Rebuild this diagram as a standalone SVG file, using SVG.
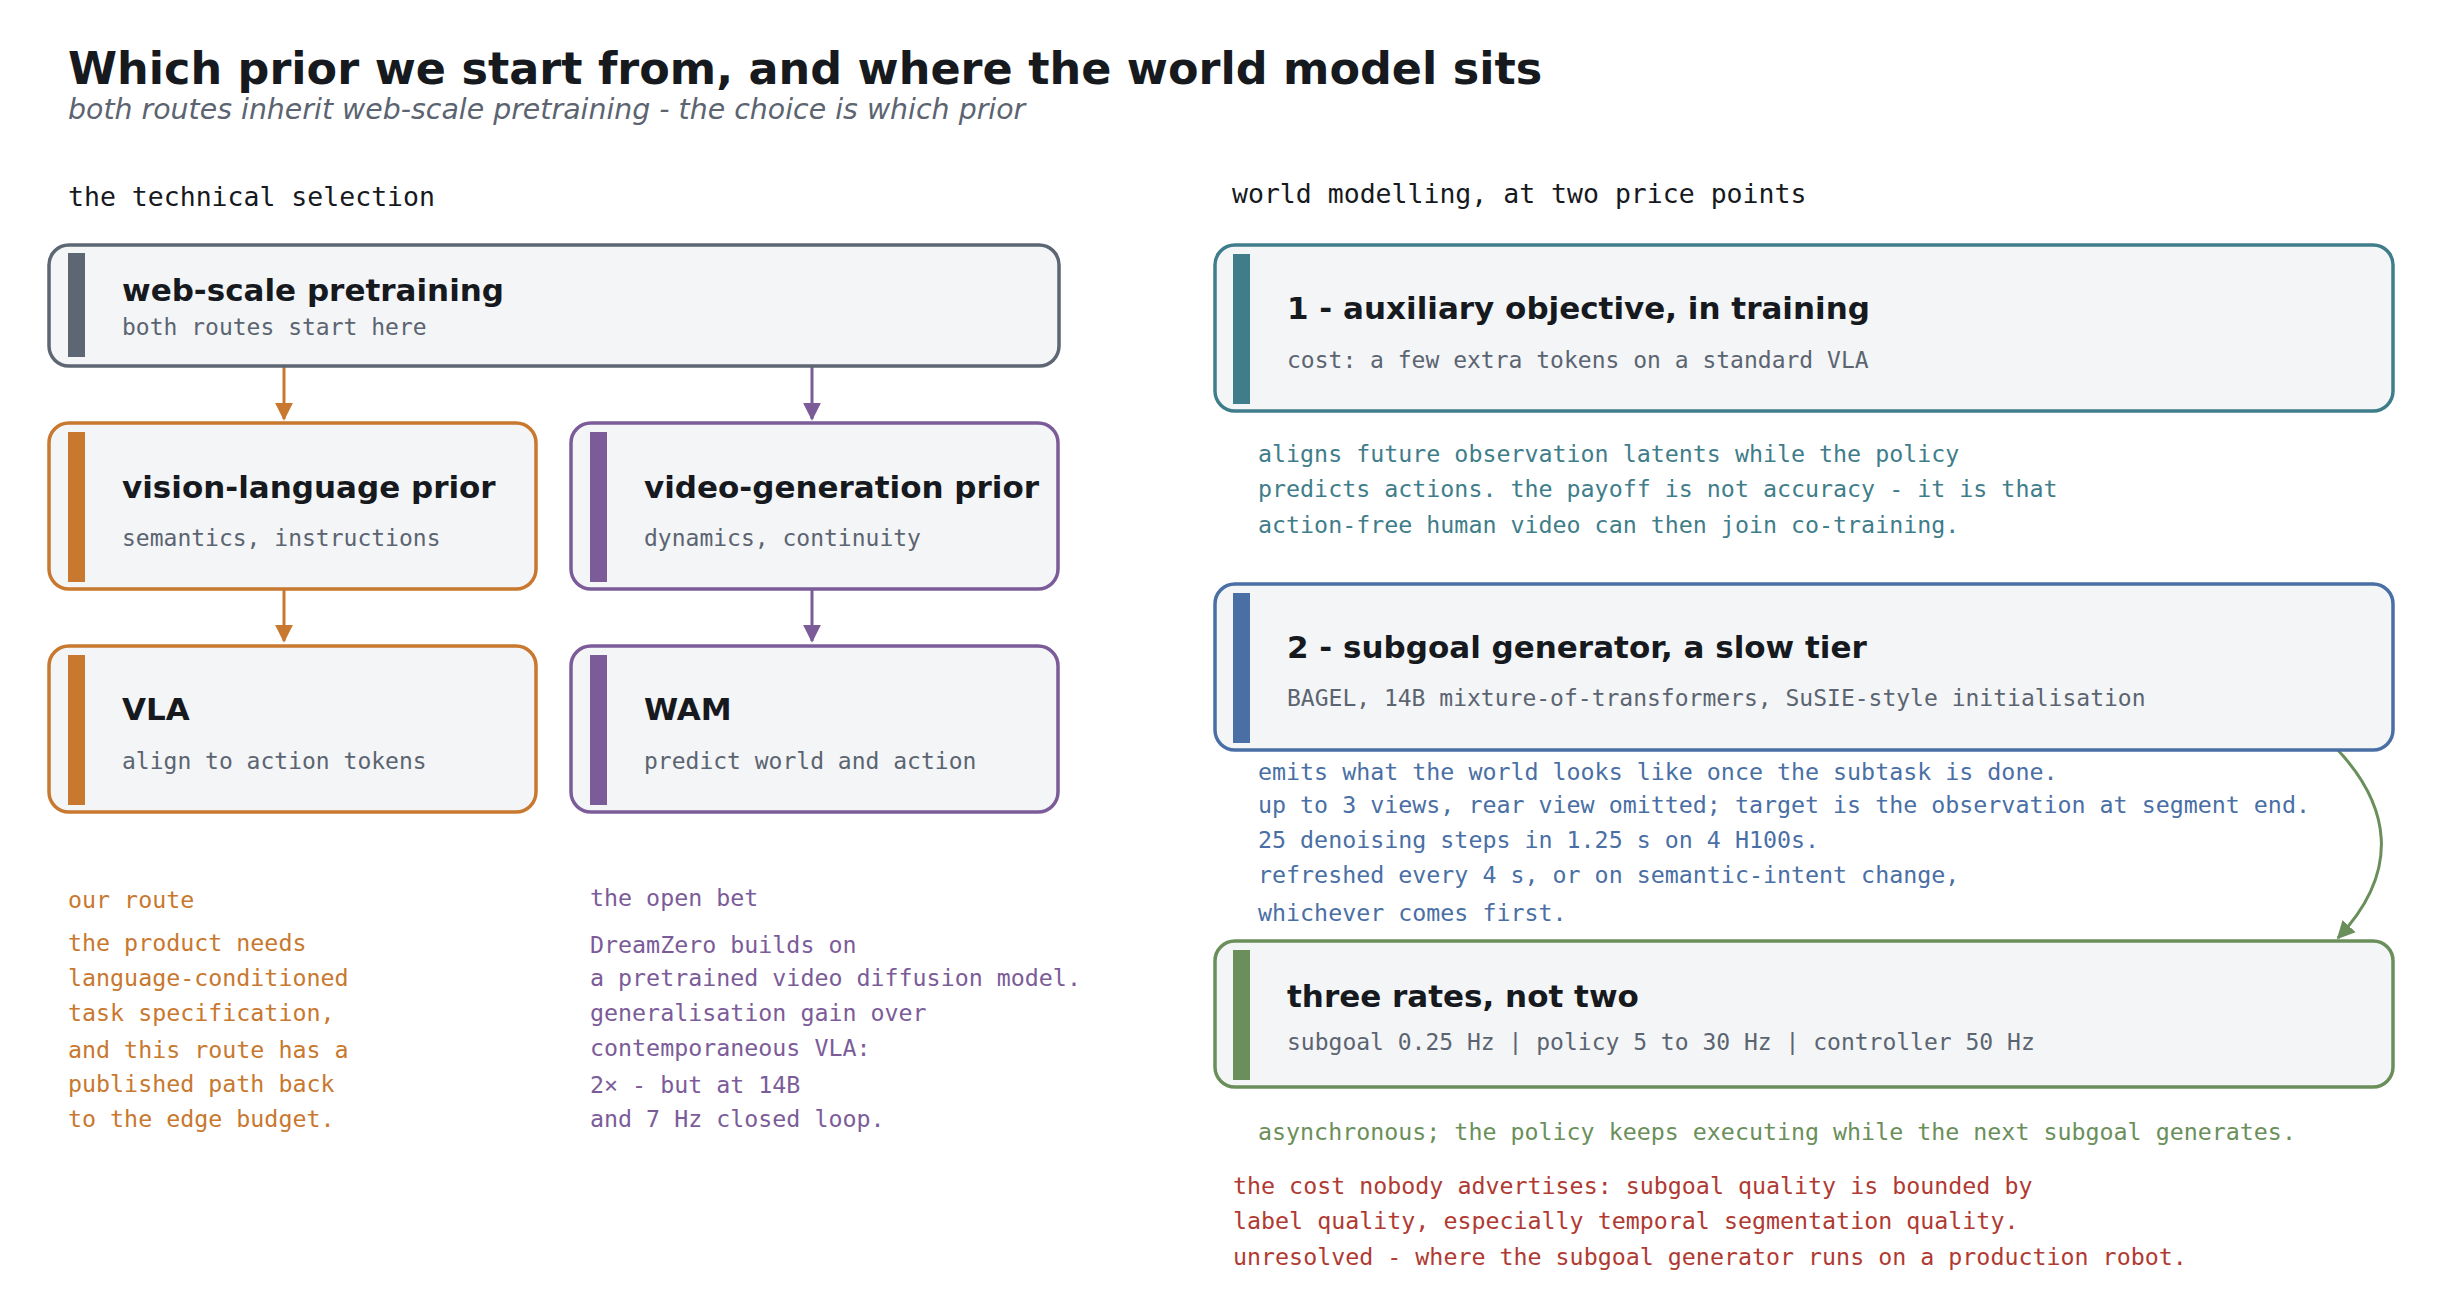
<svg xmlns="http://www.w3.org/2000/svg" width="2442" height="1302" viewBox="0 0 2442 1302">
<style>
.bg{fill:#ffffff}
.box{fill:#f3f5f7;stroke-width:3.5}
.t{font-family:"DejaVu Sans",sans-serif;font-weight:bold;font-size:31px;fill:#16191d}
.s{font-family:"DejaVu Sans Mono",monospace;font-size:23px;fill:#5b6470}
.h{font-family:"DejaVu Sans Mono",monospace;font-size:26.5px;fill:#16191d}
.m{font-family:"DejaVu Sans Mono",monospace;font-size:23.3px}
.c{fill:none;stroke-width:3}
</style>
<defs>
<marker id="ao" viewBox="0 0 10 10" refX="9" refY="5" markerWidth="6" markerHeight="6" orient="auto"><path d="M0,0L10,5L0,10z" fill="#c8782f"/></marker>
<marker id="ap" viewBox="0 0 10 10" refX="9" refY="5" markerWidth="6" markerHeight="6" orient="auto"><path d="M0,0L10,5L0,10z" fill="#7b5c99"/></marker>
<marker id="ag" viewBox="0 0 10 10" refX="9" refY="5" markerWidth="6" markerHeight="6" orient="auto"><path d="M0,0L10,5L0,10z" fill="#6a8f5a"/></marker>
</defs>
<rect class="bg" width="2442" height="1302"/>
<text x="68" y="84" font-family="DejaVu Sans,sans-serif" font-weight="bold" font-size="44.5" fill="#16191d">Which prior we start from, and where the world model sits</text>
<text x="68" y="119" font-family="DejaVu Sans,sans-serif" font-style="italic" font-size="28.4" fill="#5b6470">both routes inherit web-scale pretraining - the choice is which prior</text>
<text class="h" x="68" y="206">the technical selection</text>
<text class="h" x="1232" y="203">world modelling, at two price points</text>

<g id="connectors">
<path class="c" stroke="#c8782f" d="M284 367V419" marker-end="url(#ao)"/>
<path class="c" stroke="#7b5c99" d="M812 367V419" marker-end="url(#ap)"/>
<path class="c" stroke="#c8782f" d="M284 587V641" marker-end="url(#ao)"/>
<path class="c" stroke="#7b5c99" d="M812 587V641" marker-end="url(#ap)"/>
<path class="c" stroke="#6a8f5a" d="M2336 748C2390 805 2402 870 2338 938" marker-end="url(#ag)"/>
</g>

<g id="web"><rect class="box" x="49" y="245" width="1010" height="121" rx="20" stroke="#5d6673"/><rect x="68" y="253" width="17" height="104" fill="#5d6673"/><text class="t" x="122" y="301">web-scale pretraining</text><text class="s" x="122" y="335">both routes start here</text></g>
<g id="vlp"><rect class="box" x="49" y="423" width="487" height="166" rx="20" stroke="#c8782f"/><rect x="68" y="432" width="17" height="150" fill="#c8782f"/><text class="t" x="122" y="498">vision-language prior</text><text class="s" x="122" y="546">semantics, instructions</text></g>
<g id="vgp"><rect class="box" x="571" y="423" width="487" height="166" rx="20" stroke="#7b5c99"/><rect x="590" y="432" width="17" height="150" fill="#7b5c99"/><text class="t" x="644" y="498">video-generation prior</text><text class="s" x="644" y="546">dynamics, continuity</text></g>
<g id="vla"><rect class="box" x="49" y="646" width="487" height="166" rx="20" stroke="#c8782f"/><rect x="68" y="655" width="17" height="150" fill="#c8782f"/><text class="t" x="122" y="720">VLA</text><text class="s" x="122" y="769">align to action tokens</text></g>
<g id="wam"><rect class="box" x="571" y="646" width="487" height="166" rx="20" stroke="#7b5c99"/><rect x="590" y="655" width="17" height="150" fill="#7b5c99"/><text class="t" x="644" y="720">WAM</text><text class="s" x="644" y="769">predict world and action</text></g>

<g id="notes-left">
<text class="m" x="68" y="908" font-size="28.5" fill="#c8782f">our route</text>
<g class="m" fill="#c8782f"><text x="68" y="951">the product needs</text><text x="68" y="986">language-conditioned</text><text x="68" y="1021">task specification,</text><text x="68" y="1058">and this route has a</text><text x="68" y="1092">published path back</text><text x="68" y="1127">to the edge budget.</text></g>
<text class="m" x="590" y="906" font-size="28.5" fill="#7b5c99">the open bet</text>
<g class="m" fill="#7b5c99"><text x="590" y="953">DreamZero builds on</text><text x="590" y="986">a pretrained video diffusion model.</text><text x="590" y="1021">generalisation gain over</text><text x="590" y="1056">contemporaneous VLA:</text><text x="590" y="1093">2× - but at 14B</text><text x="590" y="1127">and 7 Hz closed loop.</text></g>
</g>

<g id="aux"><rect class="box" x="1215" y="245" width="1178" height="166" rx="20" stroke="#3f7d8a"/><rect x="1233" y="254" width="17" height="150" fill="#3f7d8a"/><text class="t" x="1287" y="319">1 - auxiliary objective, in training</text><text class="s" x="1287" y="368">cost: a few extra tokens on a standard VLA</text></g>
<g class="m" fill="#3f7d8a"><text x="1258" y="462">aligns future observation latents while the policy</text><text x="1258" y="497">predicts actions. the payoff is not accuracy - it is that</text><text x="1258" y="533">action-free human video can then join co-training.</text></g>

<g id="subgoal"><rect class="box" x="1215" y="584" width="1178" height="166" rx="20" stroke="#4a6fa5"/><rect x="1233" y="593" width="17" height="150" fill="#4a6fa5"/><text class="t" x="1287" y="658">2 - subgoal generator, a slow tier</text><text class="s" x="1287" y="706">BAGEL, 14B mixture-of-transformers, SuSIE-style initialisation</text></g>
<g class="m" fill="#4a6fa5"><text x="1258" y="780">emits what the world looks like once the subtask is done.</text><text x="1258" y="813">up to 3 views, rear view omitted; target is the observation at segment end.</text><text x="1258" y="848">25 denoising steps in 1.25 s on 4 H100s.</text><text x="1258" y="883">refreshed every 4 s, or on semantic-intent change,</text><text x="1258" y="921">whichever comes first.</text></g>

<g id="rates"><rect class="box" x="1215" y="941" width="1178" height="146" rx="20" stroke="#6a8f5a"/><rect x="1233" y="950" width="17" height="130" fill="#6a8f5a"/><text class="t" x="1287" y="1007">three rates, not two</text><text class="s" x="1287" y="1050">subgoal 0.25 Hz | policy 5 to 30 Hz | controller 50 Hz</text></g>
<text class="m" x="1258" y="1140" fill="#6a8f5a">asynchronous; the policy keeps executing while the next subgoal generates.</text>
<g class="m" fill="#b03a32"><text x="1233" y="1194">the cost nobody advertises: subgoal quality is bounded by</text><text x="1233" y="1229">label quality, especially temporal segmentation quality.</text><text x="1233" y="1265">unresolved - where the subgoal generator runs on a production robot.</text></g>
</svg>
